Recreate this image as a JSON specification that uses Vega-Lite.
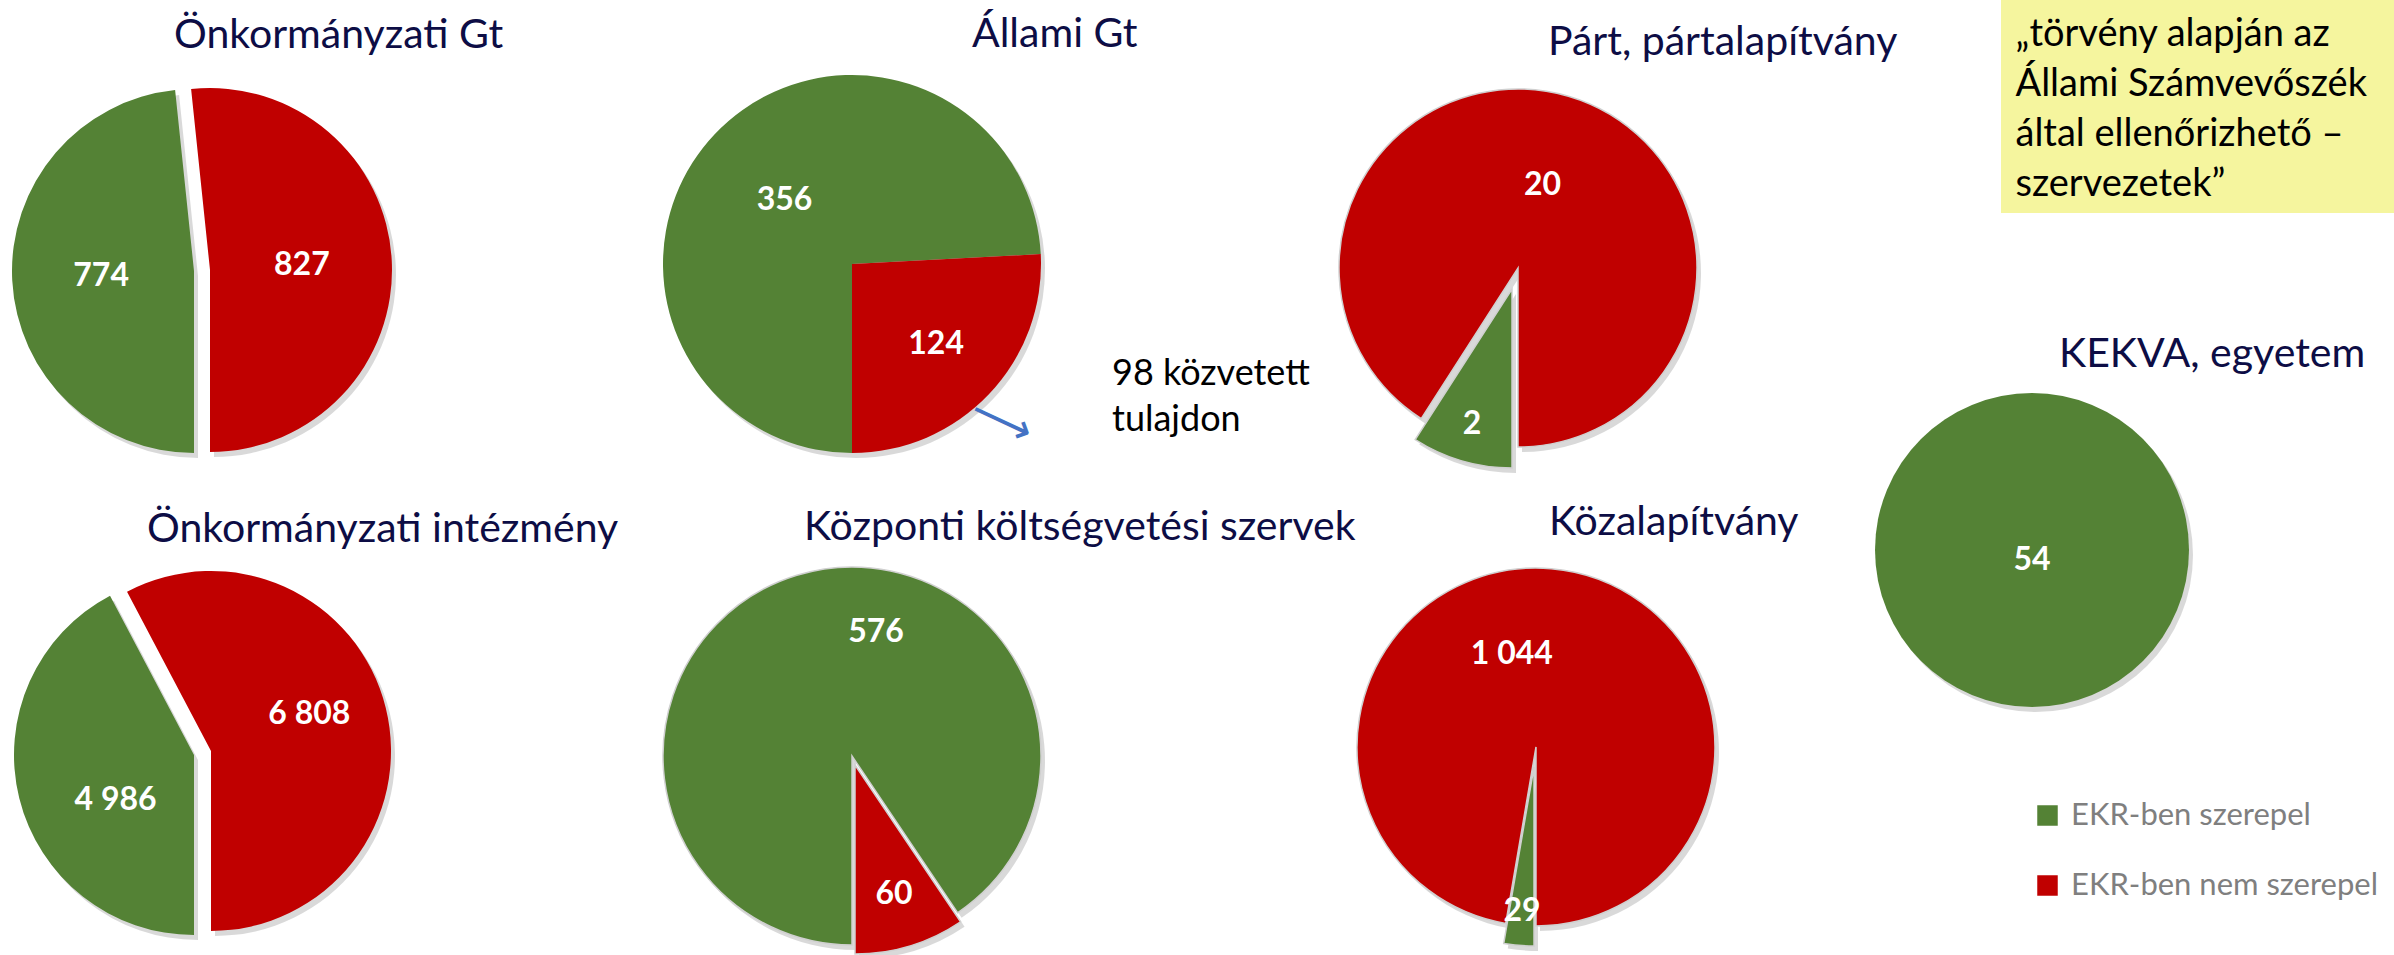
{
  "$schema": "https://vega.github.io/schema/vega-lite/v6.json",
  "padding": 0,
  "background": "white",
  "datasets": {
    "pies": [
      {"chart": "Önkormányzati Gt", "c": "EKR-ben szerepel", "n": 774},
      {"chart": "Önkormányzati Gt", "c": "EKR-ben nem szerepel", "n": 827},
      {"chart": "Állami Gt", "c": "EKR-ben szerepel", "n": 356},
      {"chart": "Állami Gt", "c": "EKR-ben nem szerepel", "n": 124},
      {"chart": "Párt, pártalapítvány", "c": "EKR-ben szerepel", "n": 2},
      {"chart": "Párt, pártalapítvány", "c": "EKR-ben nem szerepel", "n": 20},
      {"chart": "Önkormányzati intézmény", "c": "EKR-ben szerepel", "n": 4986},
      {"chart": "Önkormányzati intézmény", "c": "EKR-ben nem szerepel", "n": 6808},
      {"chart": "Központi költségvetési szervek", "c": "EKR-ben szerepel", "n": 576},
      {"chart": "Központi költségvetési szervek", "c": "EKR-ben nem szerepel", "n": 60},
      {"chart": "Közalapítvány", "c": "EKR-ben szerepel", "n": 29},
      {"chart": "Közalapítvány", "c": "EKR-ben nem szerepel", "n": 1044},
      {"chart": "KEKVA, egyetem", "c": "EKR-ben szerepel", "n": 54}
    ],
    "box": [{"t": ["„törvény alapján az", "Állami Számvevőszék", "által ellenőrizhető –", "szervezetek”"]}],
    "ann": [{"t": ["98 közvetett", "tulajdon"]}],
    "arrow": [{"a": "⟶"}]
  },
  "columns": 4,
  "spacing": {"row": 0, "column": 245},
  "bounds": "flush",
  "concat": [
    {
      "width": 388, "height": 542,
      "title": {"text": "Önkormányzati Gt", "dx": 174, "offset": -57},
      "layer": [{
        "data": {"name": "pies"},
        "transform": [{"filter": "datum.chart === 'Önkormányzati Gt'"}],
        "encoding": {
          "theta": {"field": "n", "type": "quantitative", "stack": true, "scale": {"range": [3.14159265, 9.42477796]}},
          "order": {"field": "c", "type": "ordinal", "sort": "descending"}
        },
        "layer": [
          {"mark": {"type": "arc", "radius": 182, "color": "#000000", "xOffset": 4, "yOffset": 5}, "encoding": {"detail": {"field": "c"}, "opacity": {"condition": {"test": "datum.c === 'EKR-ben nem szerepel'", "value": 0}, "value": 0.15}}},
          {"mark": {"type": "arc", "radius": 182, "color": "#000000", "xOffset": 20, "yOffset": 4}, "encoding": {"detail": {"field": "c"}, "opacity": {"condition": {"test": "datum.c === 'EKR-ben szerepel'", "value": 0}, "value": 0.15}}},
          {"mark": {"type": "arc", "radius": 182}, "encoding": {"color": {"field": "c", "type": "nominal", "title": null, "scale": {"domain": ["EKR-ben szerepel", "EKR-ben nem szerepel"], "range": ["#548235", "#C00000"]}}, "opacity": {"condition": {"test": "datum.c === 'EKR-ben nem szerepel'", "value": 0}, "value": 1}}},
          {"mark": {"type": "arc", "radius": 182, "xOffset": 16, "yOffset": -1}, "encoding": {"color": {"field": "c", "type": "nominal", "title": null, "scale": {"domain": ["EKR-ben szerepel", "EKR-ben nem szerepel"], "range": ["#548235", "#C00000"]}}, "opacity": {"condition": {"test": "datum.c === 'EKR-ben szerepel'", "value": 0}, "value": 1}}},
          {"mark": {"type": "text", "radius": 93, "font": "Lato", "fontSize": 32, "fontWeight": "bold", "color": "#FFFFFF"}, "encoding": {"detail": {"field": "c"}, "text": {"condition": {"test": "datum.c === 'EKR-ben szerepel'", "field": "n", "type": "quantitative", "format": ",d"}, "value": ""}}},
          {"mark": {"type": "text", "radius": 108, "font": "Lato", "fontSize": 32, "fontWeight": "bold", "color": "#FFFFFF"}, "encoding": {"detail": {"field": "c"}, "text": {"condition": {"test": "datum.c === 'EKR-ben nem szerepel'", "field": "n", "type": "quantitative", "format": ",d"}, "value": ""}}}
        ]
      }]
    },
    {
      "width": 438, "height": 528,
      "title": {"text": "Állami Gt", "dx": 339, "offset": -56},
      "layer": [
        {
          "data": {"name": "pies"},
          "transform": [{"filter": "datum.chart === 'Állami Gt'"}],
          "encoding": {
            "theta": {"field": "n", "type": "quantitative", "stack": true, "scale": {"range": [3.14159265, 9.42477796]}},
            "order": {"field": "c", "type": "ordinal", "sort": "descending"}
          },
          "layer": [
            {"mark": {"type": "arc", "radius": 189, "color": "#000000", "xOffset": 4, "yOffset": 5, "opacity": 0.15}, "encoding": {"detail": {"field": "c"}}},
            {"mark": {"type": "arc", "radius": 189}, "encoding": {"color": {"field": "c", "type": "nominal", "title": null, "scale": {"domain": ["EKR-ben szerepel", "EKR-ben nem szerepel"], "range": ["#548235", "#C00000"]}}}},
            {"mark": {"type": "text", "radius": 93, "font": "Lato", "fontSize": 32, "fontWeight": "bold", "color": "#FFFFFF"}, "encoding": {"detail": {"field": "c"}, "text": {"condition": {"test": "datum.c === 'EKR-ben szerepel'", "field": "n", "type": "quantitative", "format": ",d"}, "value": ""}}},
            {"mark": {"type": "text", "radius": 116, "font": "Lato", "fontSize": 32, "fontWeight": "bold", "color": "#FFFFFF"}, "encoding": {"detail": {"field": "c"}, "text": {"condition": {"test": "datum.c === 'EKR-ben nem szerepel'", "field": "n", "type": "quantitative", "format": ",d"}, "value": ""}}}
          ]
        },
        {
          "data": {"name": "ann"},
          "mark": {"type": "text", "align": "left", "baseline": "alphabetic", "font": "Lato", "fontSize": 36, "color": "#000000", "lineHeight": 46, "dx": 260, "dy": 121},
          "encoding": {"text": {"field": "t"}}
        },
        {
          "data": {"name": "arrow"},
          "mark": {"type": "text", "align": "center", "baseline": "middle", "font": "DejaVu Sans", "fontSize": 44, "color": "#4472C4", "angle": 25, "dx": 202, "dy": 80},
          "encoding": {"text": {"field": "a"}}
        }
      ]
    },
    {
      "width": 404, "height": 536,
      "title": {"text": "Párt, pártalapítvány", "dx": 232, "offset": -64},
      "layer": [{
        "data": {"name": "pies"},
        "transform": [{"filter": "datum.chart === 'Párt, pártalapítvány'"}],
        "encoding": {
          "theta": {"field": "n", "type": "quantitative", "stack": true, "scale": {"range": [3.14159265, 9.42477796]}},
          "order": {"field": "c", "type": "ordinal", "sort": "descending"}
        },
        "layer": [
          {"mark": {"type": "arc", "radius": 179, "color": "#000000", "xOffset": 4, "yOffset": 5}, "encoding": {"detail": {"field": "c"}, "opacity": {"condition": {"test": "datum.c === 'EKR-ben szerepel'", "value": 0}, "value": 0.15}}},
          {"mark": {"type": "arc", "radius": 179, "color": "#000000", "xOffset": -2, "yOffset": 26}, "encoding": {"detail": {"field": "c"}, "opacity": {"condition": {"test": "datum.c === 'EKR-ben nem szerepel'", "value": 0}, "value": 0.15}}},
          {"mark": {"type": "arc", "radius": 179, "stroke": "#D0D0D0", "strokeWidth": 1.5}, "encoding": {"color": {"field": "c", "type": "nominal", "title": null, "scale": {"domain": ["EKR-ben szerepel", "EKR-ben nem szerepel"], "range": ["#548235", "#C00000"]}}, "opacity": {"condition": {"test": "datum.c === 'EKR-ben szerepel'", "value": 0}, "value": 1}}},
          {"mark": {"type": "arc", "radius": 179, "xOffset": -6, "yOffset": 21, "stroke": "#D0D0D0", "strokeWidth": 1.5}, "encoding": {"color": {"field": "c", "type": "nominal", "title": null, "scale": {"domain": ["EKR-ben szerepel", "EKR-ben nem szerepel"], "range": ["#548235", "#C00000"]}}, "opacity": {"condition": {"test": "datum.c === 'EKR-ben nem szerepel'", "value": 0}, "value": 1}}},
          {"mark": {"type": "text", "radius": 163, "font": "Lato", "fontSize": 32, "fontWeight": "bold", "color": "#FFFFFF"}, "encoding": {"detail": {"field": "c"}, "text": {"condition": {"test": "datum.c === 'EKR-ben szerepel'", "field": "n", "type": "quantitative", "format": ",d"}, "value": ""}}},
          {"mark": {"type": "text", "radius": 87, "font": "Lato", "fontSize": 32, "fontWeight": "bold", "color": "#FFFFFF"}, "encoding": {"detail": {"field": "c"}, "text": {"condition": {"test": "datum.c === 'EKR-ben nem szerepel'", "field": "n", "type": "quantitative", "format": ",d"}, "value": ""}}}
        ]
      }]
    },
    {
      "width": 393, "height": 213,
      "view": {"fill": "#F5F59E", "stroke": null},
      "data": {"name": "box"},
      "mark": {"type": "text", "align": "left", "baseline": "alphabetic", "font": "Lato", "fontSize": 38, "color": "#000000", "lineHeight": 50, "dx": -182, "dy": -61},
      "encoding": {"text": {"field": "t"}}
    },
    {
      "width": 388, "height": 426,
      "title": {"text": "Önkormányzati intézmény", "dx": 147, "offset": -9},
      "layer": [{
        "data": {"name": "pies"},
        "transform": [{"filter": "datum.chart === 'Önkormányzati intézmény'"}],
        "encoding": {
          "theta": {"field": "n", "type": "quantitative", "stack": true, "scale": {"range": [3.14159265, 9.42477796]}},
          "order": {"field": "c", "type": "ordinal", "sort": "descending"}
        },
        "layer": [
          {"mark": {"type": "arc", "radius": 180, "color": "#000000", "xOffset": 4, "yOffset": 5}, "encoding": {"detail": {"field": "c"}, "opacity": {"condition": {"test": "datum.c === 'EKR-ben nem szerepel'", "value": 0}, "value": 0.15}}},
          {"mark": {"type": "arc", "radius": 180, "color": "#000000", "xOffset": 21, "yOffset": 1}, "encoding": {"detail": {"field": "c"}, "opacity": {"condition": {"test": "datum.c === 'EKR-ben szerepel'", "value": 0}, "value": 0.15}}},
          {"mark": {"type": "arc", "radius": 180}, "encoding": {"color": {"field": "c", "type": "nominal", "title": null, "scale": {"domain": ["EKR-ben szerepel", "EKR-ben nem szerepel"], "range": ["#548235", "#C00000"]}}, "opacity": {"condition": {"test": "datum.c === 'EKR-ben nem szerepel'", "value": 0}, "value": 1}}},
          {"mark": {"type": "arc", "radius": 180, "xOffset": 17, "yOffset": -4}, "encoding": {"color": {"field": "c", "type": "nominal", "title": null, "scale": {"domain": ["EKR-ben szerepel", "EKR-ben nem szerepel"], "range": ["#548235", "#C00000"]}}, "opacity": {"condition": {"test": "datum.c === 'EKR-ben szerepel'", "value": 0}, "value": 1}}},
          {"mark": {"type": "text", "radius": 90, "dx": 9, "dy": 23, "font": "Lato", "fontSize": 32, "fontWeight": "bold", "color": "#FFFFFF"}, "encoding": {"detail": {"field": "c"}, "text": {"condition": {"test": "datum.c === 'EKR-ben szerepel'", "field": "n", "type": "quantitative", "format": ",d"}, "value": ""}}},
          {"mark": {"type": "text", "radius": 126, "dx": -7, "dy": -11, "font": "Lato", "fontSize": 32, "fontWeight": "bold", "color": "#FFFFFF"}, "encoding": {"detail": {"field": "c"}, "text": {"condition": {"test": "datum.c === 'EKR-ben nem szerepel'", "field": "n", "type": "quantitative", "format": ",d"}, "value": ""}}}
        ]
      }]
    },
    {
      "width": 438, "height": 428,
      "title": {"text": "Központi költségvetési szervek", "dx": 171, "offset": -7},
      "layer": [{
        "data": {"name": "pies"},
        "transform": [{"filter": "datum.chart === 'Központi költségvetési szervek'"}],
        "encoding": {
          "theta": {"field": "n", "type": "quantitative", "stack": true, "scale": {"range": [3.14159265, 9.42477796]}},
          "order": {"field": "c", "type": "ordinal", "sort": "descending"}
        },
        "layer": [
          {"mark": {"type": "arc", "radius": 189, "color": "#000000", "xOffset": 4, "yOffset": 5}, "encoding": {"detail": {"field": "c"}, "opacity": {"condition": {"test": "datum.c === 'EKR-ben nem szerepel'", "value": 0}, "value": 0.15}}},
          {"mark": {"type": "arc", "radius": 189, "color": "#000000", "xOffset": 7, "yOffset": 14}, "encoding": {"detail": {"field": "c"}, "opacity": {"condition": {"test": "datum.c === 'EKR-ben szerepel'", "value": 0}, "value": 0.15}}},
          {"mark": {"type": "arc", "radius": 189, "stroke": "#D0D0D0", "strokeWidth": 1.5}, "encoding": {"color": {"field": "c", "type": "nominal", "title": null, "scale": {"domain": ["EKR-ben szerepel", "EKR-ben nem szerepel"], "range": ["#548235", "#C00000"]}}, "opacity": {"condition": {"test": "datum.c === 'EKR-ben nem szerepel'", "value": 0}, "value": 1}}},
          {"mark": {"type": "arc", "radius": 189, "xOffset": 3, "yOffset": 9, "stroke": "#D0D0D0", "strokeWidth": 1.5}, "encoding": {"color": {"field": "c", "type": "nominal", "title": null, "scale": {"domain": ["EKR-ben szerepel", "EKR-ben nem szerepel"], "range": ["#548235", "#C00000"]}}, "opacity": {"condition": {"test": "datum.c === 'EKR-ben szerepel'", "value": 0}, "value": 1}}},
          {"mark": {"type": "text", "radius": 130, "dx": 62, "font": "Lato", "fontSize": 32, "fontWeight": "bold", "color": "#FFFFFF"}, "encoding": {"detail": {"field": "c"}, "text": {"condition": {"test": "datum.c === 'EKR-ben szerepel'", "field": "n", "type": "quantitative", "format": ",d"}, "value": ""}}},
          {"mark": {"type": "text", "radius": 144, "font": "Lato", "fontSize": 32, "fontWeight": "bold", "color": "#FFFFFF"}, "encoding": {"detail": {"field": "c"}, "text": {"condition": {"test": "datum.c === 'EKR-ben nem szerepel'", "field": "n", "type": "quantitative", "format": ",d"}, "value": ""}}}
        ]
      }]
    },
    {
      "width": 440, "height": 410,
      "title": {"text": "Közalapítvány", "dx": 233, "offset": -2},
      "layer": [{
        "data": {"name": "pies"},
        "transform": [{"filter": "datum.chart === 'Közalapítvány'"}],
        "encoding": {
          "theta": {"field": "n", "type": "quantitative", "stack": true, "scale": {"range": [3.14159265, 9.42477796]}},
          "order": {"field": "c", "type": "ordinal", "sort": "descending"}
        },
        "layer": [
          {"mark": {"type": "arc", "radius": 179, "color": "#000000", "xOffset": 4, "yOffset": 5}, "encoding": {"detail": {"field": "c"}, "opacity": {"condition": {"test": "datum.c === 'EKR-ben szerepel'", "value": 0}, "value": 0.15}}},
          {"mark": {"type": "arc", "radius": 179, "color": "#000000", "xOffset": 2, "yOffset": 25}, "encoding": {"detail": {"field": "c"}, "opacity": {"condition": {"test": "datum.c === 'EKR-ben nem szerepel'", "value": 0}, "value": 0.15}}},
          {"mark": {"type": "arc", "radius": 179, "stroke": "#D0D0D0", "strokeWidth": 1.5}, "encoding": {"color": {"field": "c", "type": "nominal", "title": null, "scale": {"domain": ["EKR-ben szerepel", "EKR-ben nem szerepel"], "range": ["#548235", "#C00000"]}}, "opacity": {"condition": {"test": "datum.c === 'EKR-ben szerepel'", "value": 0}, "value": 1}}},
          {"mark": {"type": "arc", "radius": 179, "xOffset": -2, "yOffset": 20, "stroke": "#D0D0D0", "strokeWidth": 1.5}, "encoding": {"color": {"field": "c", "type": "nominal", "title": null, "scale": {"domain": ["EKR-ben szerepel", "EKR-ben nem szerepel"], "range": ["#548235", "#C00000"]}}, "opacity": {"condition": {"test": "datum.c === 'EKR-ben nem szerepel'", "value": 0}, "value": 1}}},
          {"mark": {"type": "text", "radius": 165, "font": "Lato", "fontSize": 32, "fontWeight": "bold", "color": "#FFFFFF"}, "encoding": {"detail": {"field": "c"}, "text": {"condition": {"test": "datum.c === 'EKR-ben szerepel'", "field": "n", "type": "quantitative", "format": ",d"}, "value": ""}}},
          {"mark": {"type": "text", "radius": 93, "dx": -32, "font": "Lato", "fontSize": 32, "fontWeight": "bold", "color": "#FFFFFF"}, "encoding": {"detail": {"field": "c"}, "text": {"condition": {"test": "datum.c === 'EKR-ben nem szerepel'", "field": "n", "type": "quantitative", "format": ",d"}, "value": ""}}}
        ]
      }]
    },
    {
      "width": 62, "height": 16,
      "title": {"text": "KEKVA, egyetem", "dx": 58, "offset": 17},
      "layer": [{
        "data": {"name": "pies"},
        "transform": [{"filter": "datum.chart === 'KEKVA, egyetem'"}],
        "encoding": {
          "theta": {"field": "n", "type": "quantitative", "stack": true, "scale": {"range": [3.14159265, 9.42477796]}},
          "order": {"field": "c", "type": "ordinal", "sort": "descending"}
        },
        "layer": [
          {"mark": {"type": "arc", "radius": 157, "color": "#000000", "xOffset": 4, "yOffset": 5, "opacity": 0.15}, "encoding": {"detail": {"field": "c"}}},
          {"mark": {"type": "arc", "radius": 157}, "encoding": {"color": {"field": "c", "type": "nominal", "title": null, "scale": {"domain": ["EKR-ben szerepel", "EKR-ben nem szerepel"], "range": ["#548235", "#C00000"]}}}},
          {"mark": {"type": "text", "radius": 0, "dy": 10, "font": "Lato", "fontSize": 32, "fontWeight": "bold", "color": "#FFFFFF"}, "encoding": {"detail": {"field": "c"}, "text": {"field": "n", "type": "quantitative", "format": ",d"}}}
        ]
      }]
    }
  ],
  "config": {
    "view": {"stroke": null},
    "font": "Lato",
    "locale": {"number": {"decimal": ",", "thousands": " ", "grouping": [3], "currency": ["", ""]}},
    "title": {"font": "Lato", "fontSize": 41, "fontWeight": "normal", "color": "#0D0D45", "anchor": "start", "frame": "group", "orient": "top"},
    "legend": {
      "orient": "none", "legendX": 2032, "legendY": 800,
      "symbolType": "square", "symbolSize": 420, "symbolStrokeWidth": 0,
      "labelFont": "Lato", "labelFontSize": 31, "labelColor": "#7F7F7F", "labelLimit": 500,
      "rowPadding": 38, "labelOffset": 8, "padding": 0
    }
  }
}
